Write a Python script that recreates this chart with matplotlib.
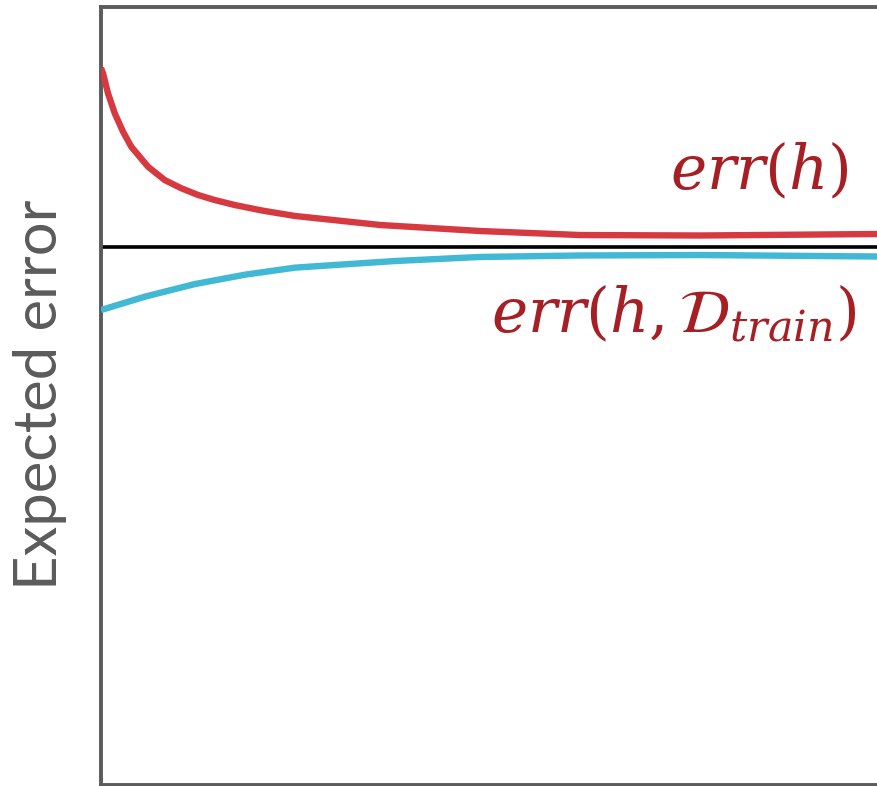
import matplotlib
matplotlib.use("Agg")
import matplotlib.pyplot as plt

# Training-set size (arbitrary units, left to right)
x_test = [0.0, 0.26, 0.90, 1.77, 2.84, 3.90, 6.06, 8.21, 10.35, 12.50, 14.65,
          17.23, 20.75, 25.0, 36.0, 48.8, 61.7, 77.2, 100.0]
# Expected error on unseen data, err(h)
err_test = [92.16, 91.48, 88.91, 86.34, 83.97, 82.04, 79.47, 77.76, 76.70,
            75.84, 75.19, 74.55, 73.84, 73.14, 71.98, 71.21, 70.69, 70.63, 70.82]

x_train = [0.0, 5.7, 12.1, 18.6, 25.0, 37.9, 48.8, 61.7, 77.2, 100.0]
# Expected error on the training set, err(h, D_train)
err_train = [61.05, 62.78, 64.39, 65.60, 66.50, 67.35, 67.87, 68.06, 68.12, 67.93]

# Asymptotic error level
err_limit = 69.11

label_test = r"$err(h)$"
label_train = r"$err(h,\mathcal{D}_{train})$"
ylabel = "Expected error"

RED = "#d63a40"
BLUE = "#41b9d4"
TEXT_RED = "#a61f24"
GRAY = "#5b5b5b"

plt.rcParams["mathtext.fontset"] = "dejavuserif"

fig = plt.figure(figsize=(8.77, 7.86), dpi=100)
ax = fig.add_axes([101 / 877, 1 / 786, 1 - 101 / 877, 778 / 786])
ax.set_xlim(0, 100)
ax.set_ylim(0, 100)

ax.axhline(err_limit, color="black", lw=2.6, zorder=2)
ax.plot(x_test, err_test, color=RED, lw=4.6, solid_capstyle="butt",
        solid_joinstyle="round", zorder=3)
ax.plot(x_train, err_train, color=BLUE, lw=4.6, solid_capstyle="butt",
        solid_joinstyle="round", zorder=3)

ax.text(96.4, 76.6, label_test, color=TEXT_RED, fontsize=44,
        ha="right", va="baseline")
ax.text(97.4, 58.2, label_train, color=TEXT_RED, fontsize=44,
        ha="right", va="baseline")

for side in ("left", "top", "bottom"):
    ax.spines[side].set_color(GRAY)
    ax.spines[side].set_linewidth(2.8)
ax.spines["right"].set_visible(False)
ax.set_xticks([])
ax.set_yticks([])

fig.text(40 / 877, 1 - 395 / 786, ylabel, rotation=90, ha="center",
         va="center", fontsize=43, color=GRAY, family="Lato")

fig.savefig("out.png", dpi=100)
